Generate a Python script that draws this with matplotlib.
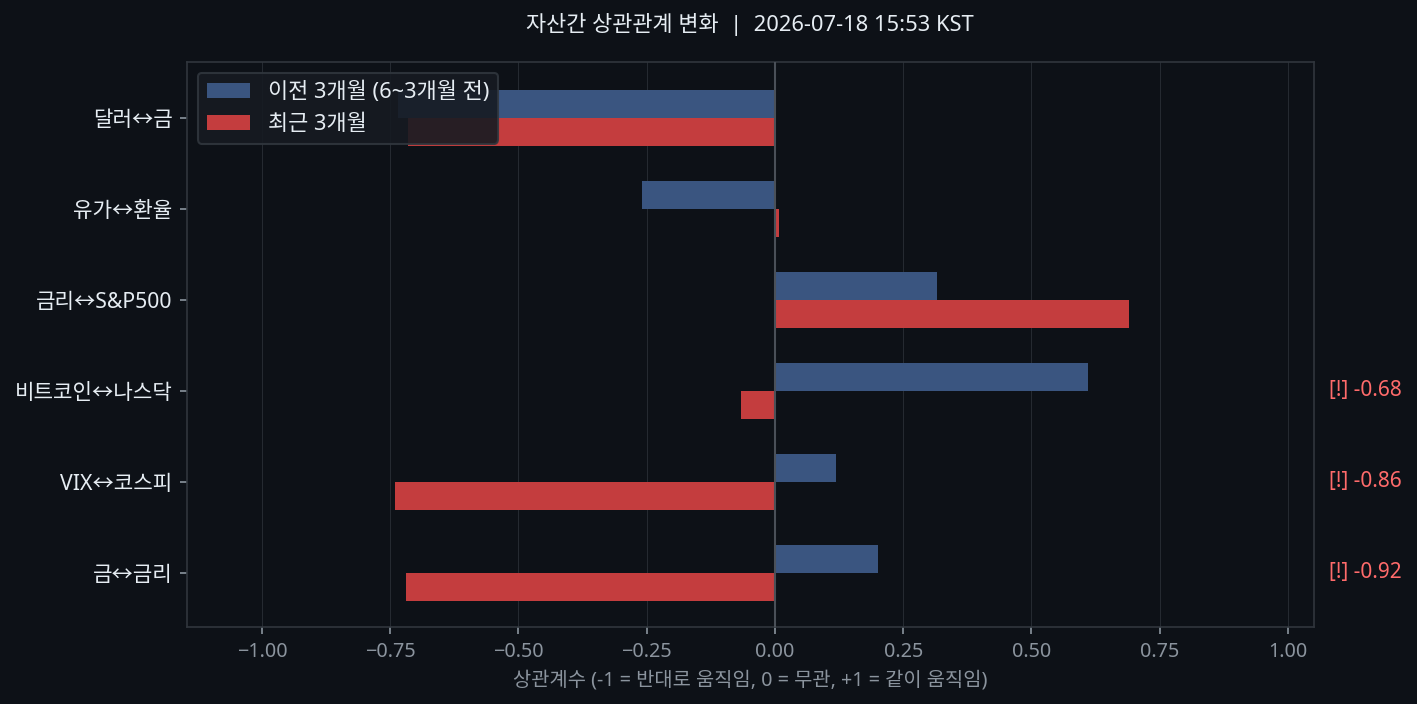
import numpy as np
from matplotlib import pyplot as plt

plt.rcParams['font.family'] = ['Noto Sans', 'Noto Sans CJK KR', 'DejaVu Sans']

# Data
pairs = ['달러↔금', '유가↔환율', '금리↔S&P500', '비트코인↔나스닥', 'VIX↔코스피', '금↔금리']
prev_corr = [-0.735, -0.26, 0.315, 0.61, 0.12, 0.20]
recent_corr = [-0.715, 0.008, 0.69, -0.066, -0.74, -0.72]
alert_pairs = ['비트코인↔나스닥', 'VIX↔코스피', '금↔금리']
alert_text = ['[!] -0.68', '[!] -0.86', '[!] -0.92']

title = '자산간 상관관계 변화  |  2026-07-18 15:53 KST'

bg = '#0d1117'
fig = plt.figure(figsize=(1417 / 150, 704 / 150), dpi=150, facecolor=bg)
ax = fig.add_axes([0.132, 0.109, 0.795, 0.803], facecolor=bg)

y = np.arange(len(pairs))
h = 0.31
ax.barh(y - h / 2, prev_corr, height=h, color='#3a5580', label='이전 3개월 (6~3개월 전)', zorder=2)
ax.barh(y + h / 2, recent_corr, height=h, color='#c43d3e', label='최근 3개월', zorder=2)

ax.axvline(0, color='#4a5058', lw=1, zorder=3)
ax.set_xlim(-1.146, 1.05)
ax.set_ylim(5.6, -0.62)
ax.set_xticks(np.arange(-1, 1.01, 0.25))
ax.set_yticks(y)
ax.set_yticklabels(pairs, color='#e6edf3', fontsize=10.2)
ax.tick_params(axis='x', colors='#8b949e', labelsize=9.5)
ax.tick_params(axis='y', colors='#8b949e')
for lab in ax.get_yticklabels():
    lab.set_color('#e6edf3')
ax.grid(axis='x', color='#30363d', lw=0.5, alpha=0.7, zorder=0)
for s in ax.spines.values():
    s.set_color('#30363d')

ax.set_xlabel('상관계수 (-1 = 반대로 움직임, 0 = 무관, +1 = 같이 움직임)', color='#8b949e', fontsize=9.5)
ax.set_title(title, color='#e6edf3', fontsize=10.5, pad=15)

for p, t in zip(alert_pairs, alert_text):
    ax.text(1.014, pairs.index(p), t, transform=ax.get_yaxis_transform(),
            color='#ff6b6b', fontsize=10, va='center', ha='left')

leg = ax.legend(loc='upper left', facecolor='#161b22', edgecolor='#30363d',
                labelcolor='#e6edf3', fontsize=10.5, framealpha=0.9)

fig.savefig('out.png', dpi=150, facecolor=bg)
